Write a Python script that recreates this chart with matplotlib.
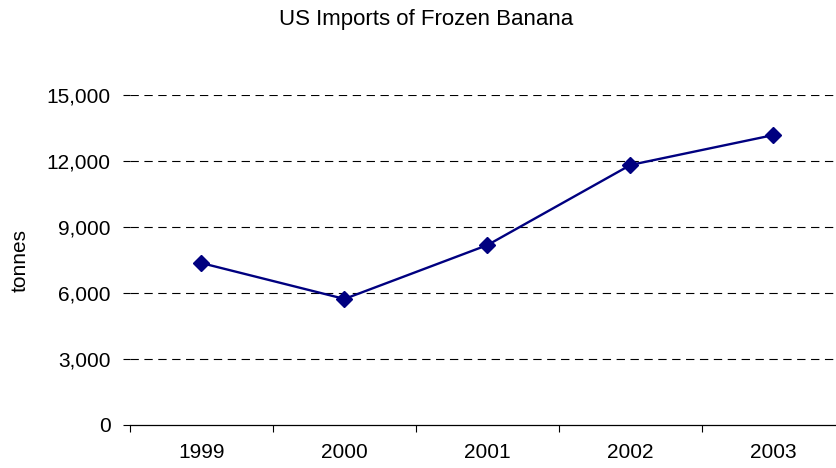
import numpy as np
import matplotlib.pyplot as plt

plt.rcParams['font.family'] = ['Liberation Sans', 'DejaVu Sans']

# Annual frozen banana imports (tonnes)
years = ['1999', '2000', '2001', '2002', '2003']
imports_t = [7360, 5730, 8180, 11820, 13180]
y_ticks = [0, 3000, 6000, 9000, 12000, 15000]

fig = plt.figure(figsize=(8.37, 4.68), dpi=100)
ax = fig.add_axes([130 / 837, 43 / 468, 715 / 837, 330 / 468])

x = np.arange(len(years))
ax.plot(x, imports_t, color='#000080', lw=1.7, marker='D', markersize=8,
        markerfacecolor='#000080', markeredgecolor='#000080', zorder=3,
        clip_on=False)

ax.set_ylim(0, 15000)
ax.set_xlim(-0.5, len(years) - 0.5)
ax.set_yticks(y_ticks)
ax.set_yticklabels([f'{v:,}' for v in y_ticks])

# category labels sit between boundary ticks
ax.set_xticks(np.arange(len(years) + 1) - 0.5)
ax.set_xticklabels([])
ax.set_xticks(x, minor=True)
ax.set_xticklabels(years, minor=True)
ax.tick_params(axis='x', which='major', direction='out', length=5, width=0.8)
ax.tick_params(axis='x', which='minor', length=0, pad=13, labelsize=15)
ax.tick_params(axis='y', direction='out', length=5, width=0.8, pad=9,
               labelsize=15)

for v in y_ticks[1:]:
    ax.axhline(v, color='black', lw=0.8, ls=(0, (7.5, 5)), zorder=1)

for side in ('top', 'right', 'left'):
    ax.spines[side].set_visible(False)
ax.spines['bottom'].set_linewidth(0.9)

ax.set_ylabel('tonnes', fontsize=15)
ax.yaxis.set_label_coords(-0.141, 0.5)

fig.text(426 / 837, 1 - 20 / 468, 'US Imports of Frozen Banana',
         ha='center', va='center', fontsize=16)

fig.savefig('out.png', dpi=100)
